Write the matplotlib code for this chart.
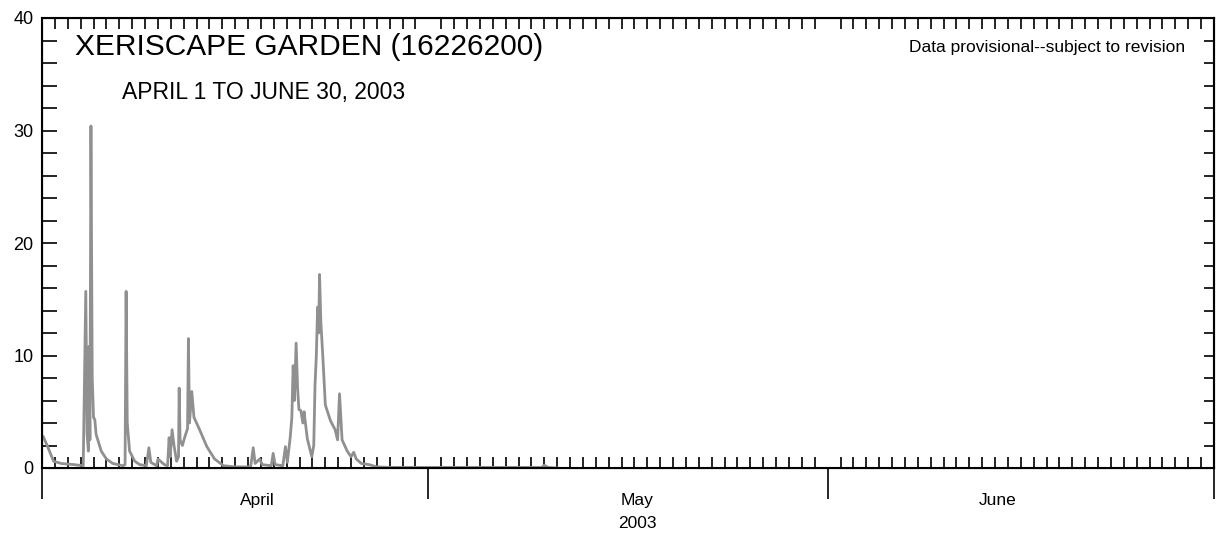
import matplotlib
matplotlib.use("Agg")
import matplotlib.pyplot as plt
from matplotlib.ticker import MultipleLocator, NullFormatter, FixedLocator

plt.rcParams['font.family'] = ['Liberation Sans', 'DejaVu Sans']

# days since April 1, value
day = [0.0, 0.1, 0.4, 0.9, 1.5, 2.5, 3.2, 3.4, 3.5, 3.6, 3.65, 3.72, 3.8, 3.9, 4.0, 4.1, 4.2, 4.6, 5.0, 5.5, 6.3,
       6.45, 6.53, 6.62, 6.8, 7.2, 7.6, 8.1, 8.3, 8.45, 8.9, 9.0, 9.5, 9.75, 9.87, 9.95, 10.1, 10.25, 10.45, 10.6, 10.65, 10.72,
       10.9, 11.1, 11.3, 11.37, 11.45, 11.63, 11.8, 12.2, 12.8, 13.4, 14.1, 15.0, 16.2, 16.4, 16.55, 16.9, 17.1, 17.8, 17.95,
       18.1, 18.7, 18.9, 19.05, 19.27, 19.4, 19.5, 19.6, 19.73, 19.85, 19.95, 20.1, 20.25, 20.35, 20.6, 20.95, 21.1, 21.2, 21.3,
       21.4, 21.48, 21.55, 21.65, 21.8, 22.0, 22.4, 22.76, 22.95, 23.1, 23.3, 23.7, 24.0, 24.2, 24.4, 24.8, 25.4, 26.0, 27.0, 38.8, 39.0, 39.3, 40.0]
val = [2.7, 2.8, 2.0, 0.6, 0.4, 0.3, 0.2, 15.7, 3.0, 1.5, 10.8, 2.5, 30.4, 8.0, 4.5, 4.3, 3.0, 1.5, 0.8, 0.4, 0.2,
       0.3, 15.7, 4.0, 1.5, 0.6, 0.3, 0.2, 1.8, 0.5, 0.2, 0.8, 0.3, 0.2, 2.7, 1.0, 3.4, 2.0, 0.6, 1.0, 7.1, 2.5,
       2.0, 2.8, 3.5, 11.5, 4.0, 6.8, 4.5, 3.5, 1.9, 0.8, 0.2, 0.1, 0.1, 1.8, 0.4, 0.8, 0.3, 0.2, 1.3,
       0.3, 0.2, 1.9, 0.5, 2.7, 4.5, 9.1, 6.0, 11.1, 7.0, 5.2, 5.1, 4.0, 5.0, 2.6, 1.0, 2.0, 7.4, 10.0,
       14.3, 12.0, 17.2, 13.0, 10.0, 5.6, 4.2, 3.4, 2.5, 6.6, 2.5, 1.5, 1.0, 1.4, 0.8, 0.4, 0.3, 0.1, 0.05, 0.05, 0.25, 0.05, 0.0]

month_names = ['April', 'May', 'June']
month_starts = [0, 30, 61, 91]
month_label_pos = [16.7, 46.2, 74.2]

fig = plt.figure(figsize=(12.2, 5.37), dpi=100)
ax = fig.add_axes([42/1220, 1-468/537, (1214-42)/1220, (468-18)/537])
ax.plot(day, val, color='#909090', lw=2.0)
ax.set_xlim(0, 91)
ax.set_ylim(0, 40)

ax.yaxis.set_major_locator(MultipleLocator(10))
ax.yaxis.set_minor_locator(MultipleLocator(2))
ax.tick_params(axis='y', which='both', direction='in', length=11, width=1.2, labelsize=13, left=True, right=False, pad=6)
ax2 = ax.twinx()
ax2.set_ylim(0, 40)
ax2.yaxis.set_major_locator(MultipleLocator(2))
ax2.tick_params(axis='y', direction='in', length=7, width=1.2, labelright=False)
ax2.spines['right'].set_linewidth(1.5)

ax.xaxis.set_major_locator(FixedLocator(month_starts))
ax.xaxis.set_major_formatter(NullFormatter())
ax.xaxis.set_minor_locator(MultipleLocator(1))
ax.tick_params(axis='x', which='major', direction='out', length=22, width=1.2, top=False)
ax.tick_params(axis='x', which='minor', direction='in', length=8, width=1.2, top=True)
for s in ax.spines.values():
    s.set_linewidth(1.5)

for p, m in zip(month_label_pos, month_names):
    ax.text(p, -2.9, m, ha='center', va='center', fontsize=12.5)
ax.text(46.2, -4.9, '2003', ha='center', va='center', fontsize=12.5)

ax.text(0.028, 0.935, 'XERISCAPE GARDEN (16226200)', transform=ax.transAxes, fontsize=21.5, va='center')
ax.text(0.068, 0.835, 'APRIL 1 TO JUNE 30, 2003', transform=ax.transAxes, fontsize=16.5, va='center')
ax.text(0.975, 0.935, 'Data provisional--subject to revision', transform=ax.transAxes, fontsize=12.5, va='center', ha='right')

fig.savefig('out.png', dpi=100)
